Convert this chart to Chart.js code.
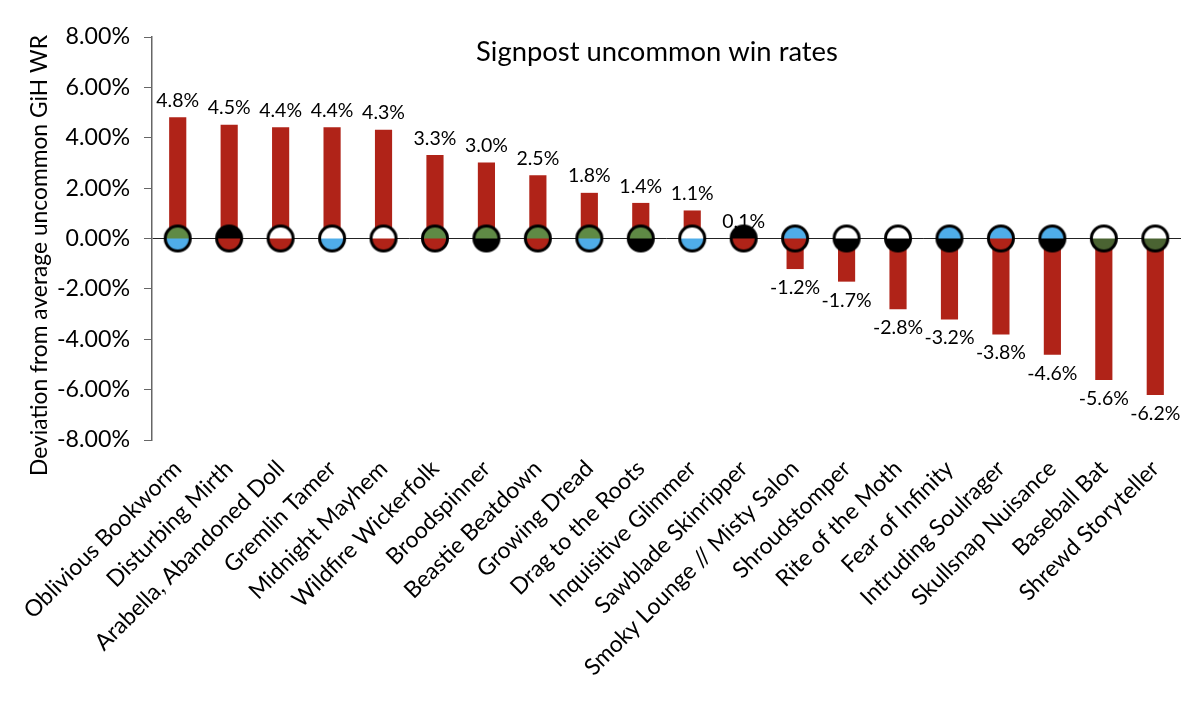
<!DOCTYPE html>
<html lang="en">
<head>
    <meta charset="UTF-8">
    <title>Signpost uncommon win rates</title>
    <script src="https://cdn.jsdelivr.net/npm/chart.js@4/dist/chart.umd.min.js"></script>
    <style>
        body { margin: 0; background: #fff; }
        canvas { display: block; }
    </style>
</head>
<body>
<canvas id="myChart" width="1200" height="721"></canvas>
<script>
var chartTitle = 'Signpost uncommon win rates';
var yTitle = 'Deviation from average uncommon GiH WR';
var cards = ['Oblivious Bookworm', 'Disturbing Mirth', 'Arabella, Abandoned Doll', 'Gremlin Tamer',
    'Midnight Mayhem', 'Wildfire Wickerfolk', 'Broodspinner', 'Beastie Beatdown', 'Growing Dread',
    'Drag to the Roots', 'Inquisitive Glimmer', 'Sawblade Skinripper', 'Smoky Lounge // Misty Salon',
    'Shroudstomper', 'Rite of the Moth', 'Fear of Infinity', 'Intruding Soulrager', 'Skullsnap Nuisance',
    'Baseball Bat', 'Shrewd Storyteller'];
var deviation = [4.8, 4.5, 4.4, 4.4, 4.3, 3.3, 3.0, 2.5, 1.8, 1.4, 1.1, 0.1, -1.2, -1.7, -2.8, -3.2, -3.8, -4.6, -5.6, -6.2];
var baseline = [0, 0, 0, 0, 0, 0, 0, 0, 0, 0, 0, 0, 0, 0, 0, 0, 0, 0, 0, 0];
var topColor = ['G', 'B', 'W', 'W', 'W', 'G', 'G', 'G', 'G', 'G', 'W', 'B', 'U', 'W', 'W', 'U', 'U', 'U', 'W', 'W'];
var bottomColor = ['U', 'R', 'R', 'U', 'R', 'R', 'B', 'R', 'U', 'B', 'U', 'R', 'R', 'B', 'B', 'B', 'R', 'B', 'g', 'g'];

var manaColors = { W: '#ffffff', U: '#4fade9', B: '#000000', R: '#b02318', G: '#5f8a45', g: '#4a6332' };
var fontName = 'Lato, sans-serif';

function makeMarker(top, bottom) {
    var c = document.createElement('canvas');
    c.width = 30;
    c.height = 30;
    var g = c.getContext('2d');
    g.beginPath();
    g.arc(15, 15, 12.5, Math.PI, 0);
    g.fillStyle = manaColors[top];
    g.fill();
    g.beginPath();
    g.arc(15, 15, 12.5, 0, Math.PI);
    g.fillStyle = manaColors[bottom];
    g.fill();
    g.beginPath();
    g.arc(15, 15, 12.5, 0, Math.PI * 2);
    g.lineWidth = 3;
    g.strokeStyle = '#000';
    g.stroke();
    return c;
}

var markers = topColor.map(function (t, i) { return makeMarker(t, bottomColor[i]); });

// title, y title and the value labels all sit at spots the stock options can't reach
var textPlugin = {
    id: 'textPlugin',
    afterDraw: function (chart) {
        var ctx = chart.ctx;
        var bars = chart.getDatasetMeta(0).data;
        ctx.save();
        ctx.fillStyle = '#000';
        ctx.textAlign = 'center';
        ctx.textBaseline = 'middle';
        ctx.font = '19.5px ' + fontName;
        bars.forEach(function (bar, i) {
            var v = deviation[i];
            var y = v >= 0 ? bar.y - (v < 1 ? 14 : 17) : bar.y + 19;
            ctx.fillText(v.toFixed(1) + '%', bar.x, y);
        });
        ctx.font = '27.4px ' + fontName;
        ctx.fillText(chartTitle, 657, 52);
        ctx.translate(40, 255.5);
        ctx.rotate(-Math.PI / 2);
        ctx.font = '22.8px ' + fontName;
        ctx.fillText(yTitle, 0, 0);
        ctx.restore();
    }
};

var ctx = document.getElementById('myChart');
var myChart = new Chart(ctx, {
    data: {
        labels: cards,
        datasets: [
            {
                type: 'bar',
                data: deviation,
                backgroundColor: '#b02318',
                barThickness: 16.5,
                order: 2
            },
            {
                type: 'line',
                data: baseline,
                showLine: false,
                pointStyle: markers,
                pointRadius: 13,
                order: 1
            }
        ]
    },
    options: {
        responsive: false,
        animation: false,
        layout: { padding: { top: 37, right: 19 } },
        plugins: {
            legend: { display: false },
            tooltip: { enabled: false }
        },
        scales: {
            x: {
                grid: { display: false },
                border: { display: false },
                afterFit: function (scale) { scale.height = 281; },
                ticks: {
                    color: '#000',
                    autoSkip: false,
                    minRotation: 45,
                    maxRotation: 45,
                    padding: 7,
                    font: { family: fontName, size: 23 }
                }
            },
            y: {
                min: -8,
                max: 8,
                afterFit: function (scale) { scale.width = 152; },
                border: { color: '#666', width: 1.5 },
                grid: {
                    color: function (c) { return c.tick.value === 0 ? '#222' : 'transparent'; },
                    tickColor: '#666',
                    tickLength: 8
                },
                ticks: {
                    stepSize: 2,
                    color: '#000',
                    padding: 14,
                    font: { family: fontName, size: 23.2 },
                    callback: function (v) { return v.toFixed(2) + '%'; }
                }
            }
        }
    },
    plugins: [textPlugin]
});
</script>
</body>
</html>
